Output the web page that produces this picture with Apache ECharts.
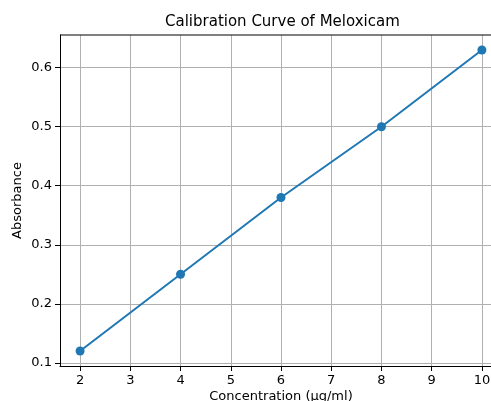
<!DOCTYPE html>
<html><head><meta charset="utf-8">
<script src="https://cdn.jsdelivr.net/npm/echarts@6/dist/echarts.min.js"></script>
<style>html,body{margin:0;padding:0;background:#fff}#c{width:491px;height:401px}</style>
</head><body><div id="c"></div>
<script>
const concentration = [2, 4, 6, 8, 10];
const absorbance = [0.12, 0.25, 0.38, 0.50, 0.63];
const xTicks = [2, 3, 4, 5, 6, 7, 8, 9, 10];
const yTicks = [0.1, 0.2, 0.3, 0.4, 0.5, 0.6];

const chart = echarts.init(document.getElementById('c'), null, {renderer: 'canvas'});
const font = 'DejaVu Sans';
chart.setOption({
  animation: false,
  backgroundColor: '#fff',
  title: {
    text: 'Calibration Curve of Meloxicam',
    left: 160, top: 10,
    textStyle: {fontFamily: font, fontSize: 15, fontWeight: 'normal', color: '#000'}
  },
  grid: {left: 60, top: 35, width: 442, height: 331, containLabel: false, outerBoundsMode: 'none'},
  xAxis: {
    type: 'value', min: 1.6, max: 10.4,
    name: 'Concentration (μg/ml)', nameLocation: 'middle', nameGap: 24, nameMoveOverlap: false,
    nameTextStyle: {fontFamily: font, fontSize: 13, color: '#000'},
    axisLine: {onZero: false, lineStyle: {color: '#000', width: 1}},
    axisTick: {show: true, length: 5, customValues: xTicks, lineStyle: {color: '#000'}},
    axisLabel: {customValues: xTicks, fontFamily: font, fontSize: 13, color: '#000', margin: 8},
    splitLine: {show: true, customValues: xTicks, lineStyle: {color: '#b0b0b0', width: 1}}
  },
  yAxis: {
    type: 'value', min: 0.0945, max: 0.6555,
    name: 'Absorbance', nameLocation: 'middle', nameGap: 36, nameMoveOverlap: false,
    nameTextStyle: {fontFamily: font, fontSize: 13, color: '#000'},
    axisLine: {onZero: false, show: true, lineStyle: {color: '#000', width: 1}},
    axisTick: {show: true, length: 5, customValues: yTicks, lineStyle: {color: '#000'}},
    axisLabel: {customValues: yTicks, fontFamily: font, fontSize: 13, color: '#000', margin: 8,
      formatter: v => v.toFixed(1)},
    splitLine: {show: true, customValues: yTicks, lineStyle: {color: '#b0b0b0', width: 1}}
  },
  series: [{
    type: 'line',
    data: concentration.map((c, i) => [c, absorbance[i]]),
    symbol: 'circle', symbolSize: 9,
    itemStyle: {color: '#1f77b4'},
    lineStyle: {color: '#1f77b4', width: 2}
  }],
  graphic: [{
    type: 'line', shape: {x1: 60, y1: 35, x2: 491, y2: 35},
    style: {stroke: '#000', lineWidth: 1}, z: 10
  }]
});
</script></body></html>
